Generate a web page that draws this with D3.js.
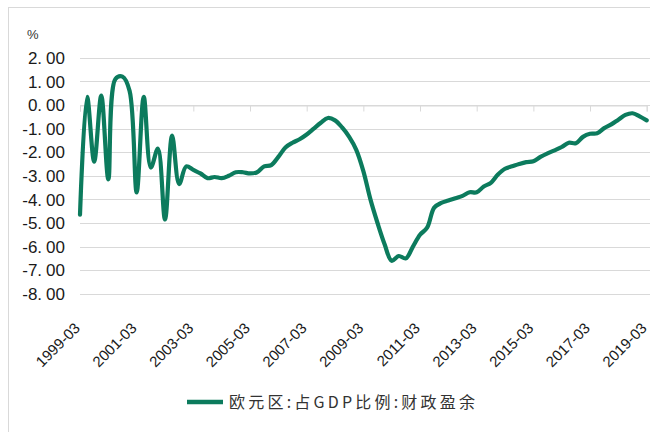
<!DOCTYPE html>
<html>
<head>
<meta charset="utf-8">
<script src="https://cdn.jsdelivr.net/npm/d3@7"></script>
<style>
  html, body { margin: 0; padding: 0; background: #fff; }
  svg { display: block; }
</style>
</head>
<body>
<svg id="chart" width="650" height="432"></svg>
<script>
// Euro area: fiscal balance as % of GDP, quarterly 1999-03 .. 2019-03
const startYear = 1999;
const quarterMonths = ["03", "06", "09", "12"];
const balance = [
  -4.65, 0.35, -2.4, 0.4, -3.15, 1.1, 1.2, 0.6,
  -3.7, 0.35, -2.65, -1.85, -4.85, -1.3, -3.35, -2.6,
  -2.75, -2.9, -3.1, -3.05, -3.1, -3.0, -2.85, -2.85,
  -2.9, -2.85, -2.6, -2.55, -2.2, -1.8, -1.6, -1.45,
  -1.25, -1.0, -0.75, -0.55, -0.65, -0.95, -1.35, -1.9,
  -2.8, -4.0, -5.0, -5.9, -6.6, -6.4, -6.5, -6.0,
  -5.5, -5.2, -4.35, -4.15, -4.05, -3.95, -3.85, -3.7,
  -3.7, -3.45, -3.3, -2.95, -2.7, -2.6, -2.5, -2.42,
  -2.38, -2.2, -2.05, -1.92, -1.78, -1.6, -1.62, -1.35,
  -1.22, -1.2, -0.98, -0.82, -0.62, -0.42, -0.35, -0.48,
  -0.65
];
const categories = balance.map((_, i) =>
  `${startYear + Math.floor(i / 4)}-${quarterMonths[i % 4]}`);
const tickLabels = ["1999-03", "2001-03", "2003-03", "2005-03", "2007-03",
  "2009-03", "2011-03", "2013-03", "2015-03", "2017-03", "2019-03"];
const yTicks = [2, 1, 0, -1, -2, -3, -4, -5, -6, -7, -8];
const seriesName = "欧元区:占GDP比例:财政盈余";

const lineColor = "#0c7b5d";
const gridColor = "#d9d9d9";

const svg = d3.select("#chart");

// outer frame
svg.append("rect")
  .attr("x", 8.5).attr("y", 7.5)
  .attr("width", 660).attr("height", 440)
  .attr("fill", "none").attr("stroke", "#d9d9d9");

const x = d3.scalePoint().domain(categories).range([80, 646.7]);
const y = d3.scaleLinear().domain([-8, 2]).range([293.8, 57.8]);

// horizontal gridlines
svg.append("g")
  .selectAll("line")
  .data(yTicks)
  .join("line")
  .attr("x1", 80).attr("x2", 650)
  .attr("y1", d => Math.round(y(d)) + 0.5)
  .attr("y2", d => Math.round(y(d)) + 0.5)
  .attr("stroke", gridColor).attr("stroke-width", 1);

// category axis on the zero line, ticks every two years
const xAxis = d3.axisBottom(x)
  .tickValues(tickLabels)
  .tickSize(6)
  .tickFormat("");
const gx = svg.append("g")
  .attr("transform", `translate(0,${Math.round(y(0)) + 0.5})`)
  .call(xAxis);
gx.select(".domain").attr("stroke", gridColor);
gx.selectAll(".tick line").attr("stroke", gridColor);

// rotated date labels along the bottom
svg.append("g")
  .selectAll("text")
  .data(tickLabels)
  .join("text")
  .attr("transform", d => `translate(${x(d) + 1},329) rotate(-45)`)
  .attr("text-anchor", "end")
  .attr("font-family", "Liberation Sans, Arial, sans-serif")
  .attr("font-size", 15)
  .attr("fill", "#1a1a1a")
  .text(d => d);

// value labels on the left
const yLab = svg.append("g")
  .selectAll("text")
  .data(yTicks)
  .join("text")
  .attr("x", 65)
  .attr("y", d => y(d))
  .attr("dy", "0.36em")
  .attr("text-anchor", "end")
  .attr("font-family", "Liberation Sans, Arial, sans-serif")
  .attr("font-size", 17)
  .attr("fill", "#1a1a1a");
yLab.each(function (d) {
  const s = d3.format(".2f")(d).replace("−", "-");
  const [a, b] = s.split(".");
  const t = d3.select(this);
  t.append("tspan").text(a + ".");
  t.append("tspan").attr("dx", 4).text(b);
});

// unit
svg.append("text")
  .attr("x", 27).attr("y", 39)
  .attr("font-family", "Liberation Sans, Arial, sans-serif")
  .attr("font-size", 13)
  .attr("fill", "#333")
  .text("%");

// series line
const line = d3.line()
  .x((d, i) => x(categories[i]))
  .y(d => y(d))
  .curve(d3.curveCatmullRom.alpha(0.5));

svg.append("path")
  .datum(balance)
  .attr("d", line)
  .attr("fill", "none")
  .attr("stroke", lineColor)
  .attr("stroke-width", 4.2)
  .attr("stroke-linejoin", "round")
  .attr("stroke-linecap", "round");

// legend
const legend = svg.append("g");
legend.append("line")
  .attr("x1", 187).attr("x2", 223)
  .attr("y1", 402).attr("y2", 402)
  .attr("stroke", lineColor).attr("stroke-width", 4.5);
legend.append("text")
  .attr("x", 229).attr("y", 408)
  .attr("font-family", "Noto Sans CJK SC, sans-serif")
  .attr("font-size", 16)
  .attr("fill", "#333")
  .attr("textLength", 246)
  .attr("lengthAdjust", "spacing")
  .text(seriesName);
</script>
</body>
</html>
